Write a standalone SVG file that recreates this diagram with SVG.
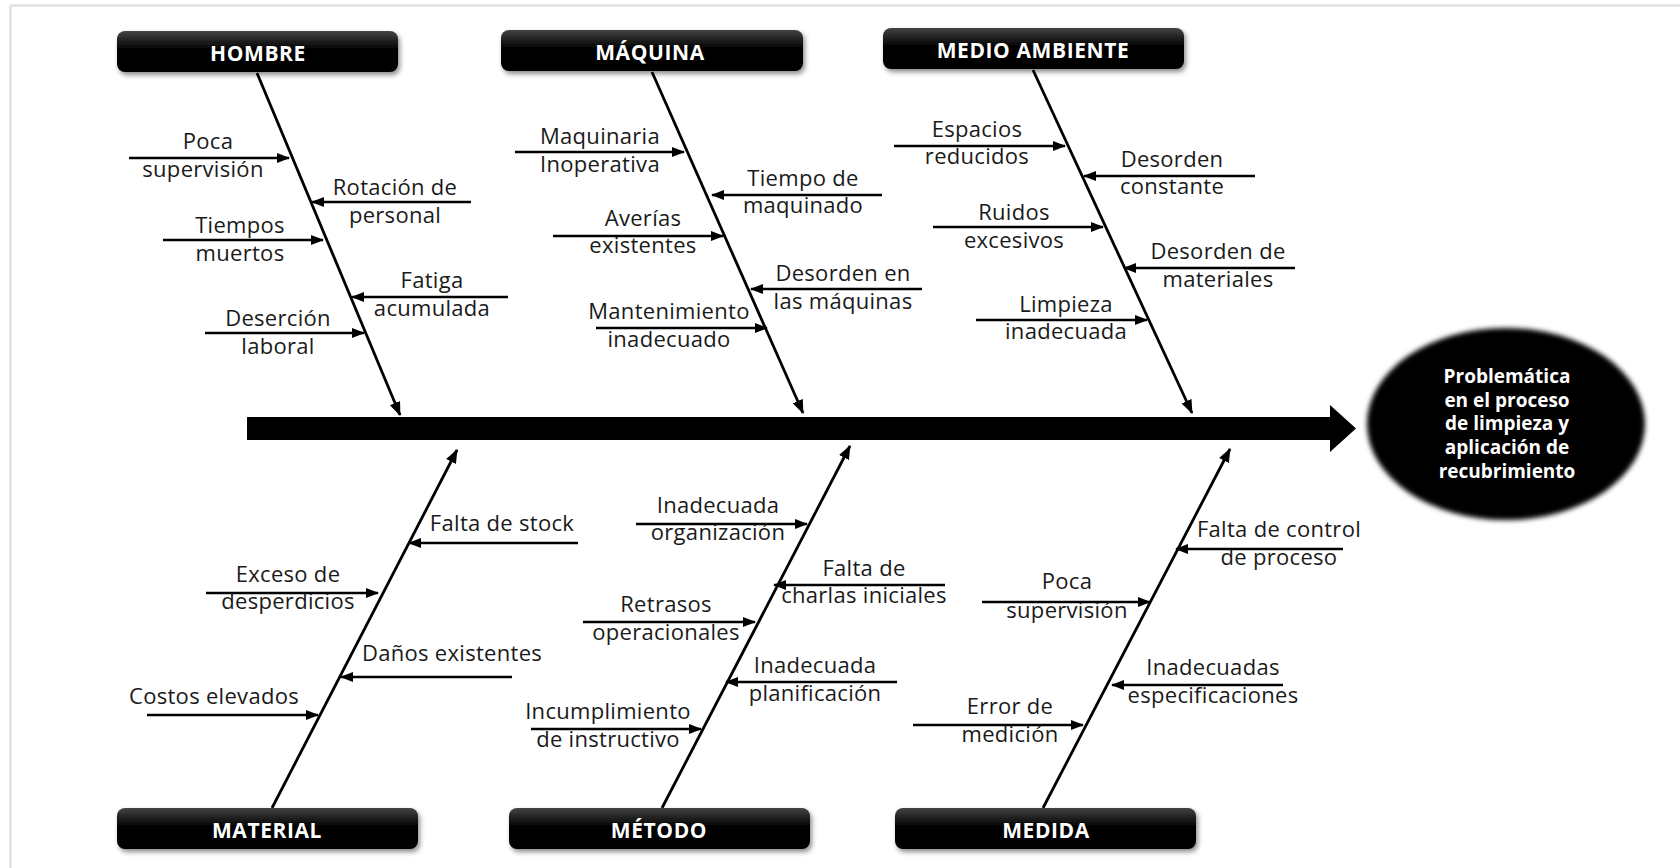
<svg xmlns="http://www.w3.org/2000/svg" width="1680" height="868" viewBox="0 0 1680 868">
<style>
.lbl{font-family:"Open Sans","DejaVu Sans",sans-serif;font-size:22px;fill:#1a1a1a;text-anchor:middle;letter-spacing:0.3px}
.hdr{font-family:"Open Sans","DejaVu Sans",sans-serif;font-size:21px;font-weight:bold;fill:#fff;text-anchor:middle;letter-spacing:0.6px}
.eff{font-family:"Open Sans","DejaVu Sans",sans-serif;font-size:19px;font-weight:bold;fill:#fff;text-anchor:middle}
.box{fill:url(#hg);filter:url(#sh)}
.cause{stroke:#000;stroke-width:2.6;fill:none;marker-end:url(#ah)}
.bone{stroke:#000;stroke-width:2.8;fill:none;marker-end:url(#ah2)}
</style>
<defs>
<linearGradient id="hg" x1="0" y1="0" x2="0" y2="1">
<stop offset="0" stop-color="#444"/>
<stop offset="0.45" stop-color="#000"/>
<stop offset="1" stop-color="#000"/>
</linearGradient>
<filter id="sh" x="-5%" y="-20%" width="110%" height="150%">
<feDropShadow dx="2" dy="3" stdDeviation="2.5" flood-color="#000" flood-opacity="0.45"/>
</filter>
<filter id="soft" x="-10%" y="-10%" width="120%" height="120%">
<feGaussianBlur stdDeviation="2.5"/>
</filter>
<marker id="ah" markerUnits="userSpaceOnUse" markerWidth="13" markerHeight="11" refX="12" refY="5" orient="auto">
<path d="M0,0 L13,5 L0,10 Z" fill="#000"/>
</marker>
<marker id="ah2" markerUnits="userSpaceOnUse" markerWidth="14" markerHeight="12" refX="13" refY="5.5" orient="auto">
<path d="M0,0 L14,5.5 L0,11 Z" fill="#000"/>
</marker>
</defs>
<rect width="1680" height="868" fill="#fff"/>
<g id="frame" stroke="#dcdcdc" stroke-width="2" fill="none">
<line x1="10" y1="5.5" x2="1680" y2="5.5"/>
<line x1="10.5" y1="5" x2="10.5" y2="868"/>
</g>

<g id="connectors">
<path id="spine" d="M247,417 H1330 V405 L1356,428.5 L1330,452 V440 H247 Z" fill="#000"/>
<line class="bone" x1="257" y1="73" x2="400" y2="415"/>
<line class="bone" x1="652" y1="72" x2="803" y2="413"/>
<line class="bone" x1="1033" y1="70" x2="1192" y2="413"/>
<line class="bone" x1="272" y1="808" x2="457" y2="450"/>
<line class="bone" x1="662" y1="808" x2="850" y2="446"/>
<line class="bone" x1="1043" y1="808" x2="1230" y2="449"/>
<line class="cause" x1="129" y1="158" x2="289" y2="158"/>
<line class="cause" x1="471" y1="202" x2="312" y2="202"/>
<line class="cause" x1="163" y1="240" x2="323" y2="240"/>
<line class="cause" x1="508" y1="297" x2="352" y2="297"/>
<line class="cause" x1="205" y1="333" x2="364" y2="333"/>
<line class="cause" x1="515" y1="152" x2="684" y2="152"/>
<line class="cause" x1="882" y1="195" x2="712" y2="195"/>
<line class="cause" x1="553" y1="236" x2="723" y2="236"/>
<line class="cause" x1="922" y1="289" x2="751" y2="289"/>
<line class="cause" x1="596" y1="328" x2="767" y2="328"/>
<line class="cause" x1="894" y1="146" x2="1065" y2="146"/>
<line class="cause" x1="1255" y1="176" x2="1084" y2="176"/>
<line class="cause" x1="933" y1="227" x2="1103" y2="227"/>
<line class="cause" x1="1295" y1="268" x2="1124" y2="268"/>
<line class="cause" x1="976" y1="320" x2="1147" y2="320"/>
<line class="cause" x1="578" y1="543" x2="409" y2="543"/>
<line class="cause" x1="206" y1="593" x2="378" y2="593"/>
<line class="cause" x1="512" y1="677" x2="341" y2="677"/>
<line class="cause" x1="147" y1="715" x2="318" y2="715"/>
<line class="cause" x1="636" y1="524" x2="807" y2="524"/>
<line class="cause" x1="945" y1="585" x2="774" y2="585"/>
<line class="cause" x1="583" y1="622" x2="755" y2="622"/>
<line class="cause" x1="897" y1="682" x2="726" y2="682"/>
<line class="cause" x1="531" y1="729" x2="701" y2="729"/>
<line class="cause" x1="1343" y1="549" x2="1176" y2="549"/>
<line class="cause" x1="982" y1="602" x2="1150" y2="602"/>
<line class="cause" x1="1283" y1="685" x2="1112" y2="685"/>
<line class="cause" x1="913" y1="725" x2="1083" y2="725"/>
</g>

<g id="hombre"><rect class="box" x="117" y="31" width="281" height="41" rx="8"/><text class="hdr" x="258" y="61">HOMBRE</text></g>
<g id="maquina"><rect class="box" x="501" y="30" width="302" height="41" rx="8"/><text class="hdr" x="650" y="60">MÁQUINA</text></g>
<g id="medio-ambiente"><rect class="box" x="883" y="28" width="301" height="41" rx="8"/><text class="hdr" x="1033" y="58">MEDIO AMBIENTE</text></g>
<g id="material"><rect class="box" x="117" y="808" width="301" height="41" rx="8"/><text class="hdr" x="267" y="838">MATERIAL</text></g>
<g id="metodo"><rect class="box" x="509" y="808" width="301" height="41" rx="8"/><text class="hdr" x="659" y="838">MÉTODO</text></g>
<g id="medida"><rect class="box" x="895" y="808" width="301" height="41" rx="8"/><text class="hdr" x="1046" y="838">MEDIDA</text></g>

<g id="efecto">
<ellipse cx="1506" cy="424" rx="139" ry="96" fill="#000" filter="url(#soft)"/>
<text class="eff" x="1507" y="383"><tspan x="1507">Problemática</tspan><tspan x="1507" dy="23.7">en el proceso</tspan><tspan x="1507" dy="23.7">de limpieza y</tspan><tspan x="1507" dy="23.7">aplicación de</tspan><tspan x="1507" dy="23.7">recubrimiento</tspan></text>
</g>

<g id="c-poca-supervision-1"><text class="lbl" x="208" y="149">Poca</text><text class="lbl" x="203" y="177">supervisión</text></g>
<g id="c-rotacion"><text class="lbl" x="395" y="195">Rotación de</text><text class="lbl" x="395" y="223">personal</text></g>
<g id="c-tiempos"><text class="lbl" x="240" y="233">Tiempos</text><text class="lbl" x="240" y="261">muertos</text></g>
<g id="c-fatiga"><text class="lbl" x="432" y="288">Fatiga</text><text class="lbl" x="432" y="316">acumulada</text></g>
<g id="c-desercion"><text class="lbl" x="278" y="326">Deserción</text><text class="lbl" x="278" y="354">laboral</text></g>

<g id="c-maquinaria"><text class="lbl" x="600" y="144">Maquinaria</text><text class="lbl" x="600" y="172">Inoperativa</text></g>
<g id="c-tiempo-maquinado"><text class="lbl" x="803" y="186">Tiempo de</text><text class="lbl" x="803" y="213">maquinado</text></g>
<g id="c-averias"><text class="lbl" x="643" y="226">Averías</text><text class="lbl" x="643" y="253">existentes</text></g>
<g id="c-desorden-maquinas"><text class="lbl" x="843" y="281">Desorden en</text><text class="lbl" x="843" y="309">las máquinas</text></g>
<g id="c-mantenimiento"><text class="lbl" x="669" y="319">Mantenimiento</text><text class="lbl" x="669" y="347">inadecuado</text></g>

<g id="c-espacios"><text class="lbl" x="977" y="137">Espacios</text><text class="lbl" x="977" y="164">reducidos</text></g>
<g id="c-desorden-constante"><text class="lbl" x="1172" y="167">Desorden</text><text class="lbl" x="1172" y="194">constante</text></g>
<g id="c-ruidos"><text class="lbl" x="1014" y="220">Ruidos</text><text class="lbl" x="1014" y="248">excesivos</text></g>
<g id="c-desorden-materiales"><text class="lbl" x="1218" y="259">Desorden de</text><text class="lbl" x="1218" y="287">materiales</text></g>
<g id="c-limpieza"><text class="lbl" x="1066" y="312">Limpieza</text><text class="lbl" x="1066" y="339">inadecuada</text></g>

<g id="c-falta-stock"><text class="lbl" x="502" y="531">Falta de stock</text></g>
<g id="c-exceso"><text class="lbl" x="288" y="582">Exceso de</text><text class="lbl" x="288" y="609">desperdicios</text></g>
<g id="c-danos"><text class="lbl" x="452" y="661">Daños existentes</text></g>
<g id="c-costos"><text class="lbl" x="214" y="704">Costos elevados</text></g>

<g id="c-organizacion"><text class="lbl" x="718" y="513">Inadecuada</text><text class="lbl" x="718" y="540">organización</text></g>
<g id="c-charlas"><text class="lbl" x="864" y="576">Falta de</text><text class="lbl" x="864" y="603">charlas iniciales</text></g>
<g id="c-retrasos"><text class="lbl" x="666" y="612">Retrasos</text><text class="lbl" x="666" y="640">operacionales</text></g>
<g id="c-planificacion"><text class="lbl" x="815" y="673">Inadecuada</text><text class="lbl" x="815" y="701">planificación</text></g>
<g id="c-incumplimiento"><text class="lbl" x="608" y="719">Incumplimiento</text><text class="lbl" x="608" y="747">de instructivo</text></g>

<g id="c-control"><text class="lbl" x="1279" y="537">Falta de control</text><text class="lbl" x="1279" y="565">de proceso</text></g>
<g id="c-poca-supervision-2"><text class="lbl" x="1067" y="589">Poca</text><text class="lbl" x="1067" y="618">supervisión</text></g>
<g id="c-especificaciones"><text class="lbl" x="1213" y="675">Inadecuadas</text><text class="lbl" x="1213" y="703">especificaciones</text></g>
<g id="c-error"><text class="lbl" x="1010" y="714">Error de</text><text class="lbl" x="1010" y="742">medición</text></g>
</svg>
